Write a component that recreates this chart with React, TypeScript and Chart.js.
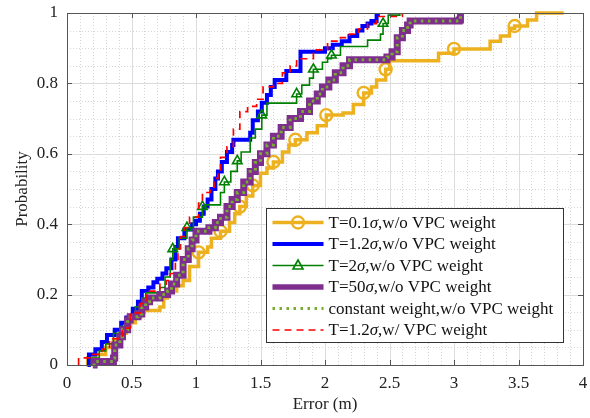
import React, { useEffect, useRef } from 'react';
import { Chart, registerables } from 'chart.js';
Chart.register(...registerables);

// ---- data ----
const xTickValues = [0, 0.5, 1, 1.5, 2, 2.5, 3, 3.5, 4];
const yTickValues = [0, 0.2, 0.4, 0.6, 0.8, 1];

// T=0.1σ, w/o VPC weight
const t01Err = [0.15, 0.16, 0.22, 0.3, 0.36, 0.41, 0.46, 0.49, 0.53, 0.57, 0.6, 0.72, 0.75, 0.78, 0.85, 0.9, 0.95, 1.02, 1.09, 1.12, 1.19, 1.26, 1.3, 1.34, 1.39, 1.44, 1.5, 1.55, 1.6, 1.67, 1.72, 1.77, 1.86, 1.94, 2.01, 2.14, 2.22, 2.3, 2.36, 2.4, 2.47, 2.5, 2.88, 3.0, 3.28, 3.36, 3.43, 3.47, 3.57, 3.64, 3.85];
const t01Prob = [0, 0.02, 0.03, 0.05, 0.07, 0.09, 0.11, 0.12, 0.135, 0.15, 0.155, 0.165, 0.19, 0.21, 0.225, 0.24, 0.28, 0.32, 0.335, 0.36, 0.38, 0.405, 0.43, 0.45, 0.48, 0.51, 0.545, 0.56, 0.577, 0.605, 0.625, 0.64, 0.66, 0.68, 0.71, 0.716, 0.74, 0.773, 0.79, 0.81, 0.84, 0.864, 0.886, 0.898, 0.92, 0.935, 0.957, 0.963, 0.98, 1.0, 1.0];
const t01Marks = [17, 20, 23, 25, 28, 31, 34, 37, 40, 43, 47];

// T=1.2σ, w/o VPC weight
const t12Err = [0.16, 0.17, 0.22, 0.27, 0.31, 0.37, 0.42, 0.46, 0.51, 0.55, 0.58, 0.63, 0.67, 0.7, 0.74, 0.77, 0.81, 0.84, 0.86, 0.91, 0.97, 1.0, 1.03, 1.06, 1.09, 1.12, 1.15, 1.17, 1.2, 1.24, 1.28, 1.29, 1.42, 1.44, 1.48, 1.51, 1.55, 1.58, 1.61, 1.7, 1.81, 2.0, 2.06, 2.13, 2.19, 2.25, 2.29, 2.33, 2.36, 2.4, 2.41];
const t12Prob = [0, 0.03, 0.045, 0.065, 0.085, 0.1, 0.12, 0.135, 0.16, 0.18, 0.21, 0.22, 0.235, 0.245, 0.26, 0.275, 0.3, 0.335, 0.36, 0.385, 0.4, 0.41, 0.43, 0.45, 0.47, 0.5, 0.53, 0.55, 0.577, 0.605, 0.625, 0.64, 0.66, 0.695, 0.72, 0.745, 0.767, 0.79, 0.81, 0.835, 0.89, 0.9, 0.91, 0.92, 0.935, 0.95, 0.963, 0.97, 0.977, 0.994, 1.0];

// T=2σ, w/o VPC weight
const t2Err = [0.18, 0.19, 0.25, 0.3, 0.36, 0.42, 0.48, 0.53, 0.58, 0.61, 0.72, 0.76, 0.8, 0.82, 0.87, 0.93, 0.98, 1.05, 1.07, 1.19, 1.22, 1.27, 1.32, 1.35, 1.42, 1.46, 1.51, 1.55, 1.78, 1.82, 1.88, 1.91, 1.98, 2.02, 2.05, 2.12, 2.33, 2.43, 2.45, 2.49, 2.58];
const t2Prob = [0, 0.02, 0.04, 0.06, 0.09, 0.11, 0.14, 0.165, 0.19, 0.205, 0.22, 0.25, 0.3, 0.33, 0.36, 0.39, 0.42, 0.45, 0.455, 0.49, 0.52, 0.55, 0.58, 0.605, 0.645, 0.67, 0.71, 0.744, 0.77, 0.795, 0.815, 0.84, 0.86, 0.87, 0.88, 0.905, 0.923, 0.94, 0.97, 0.994, 1.0];
const t2Marks = [13, 15, 17, 20, 22, 26, 28, 31, 34, 38];

// T=50σ, w/o VPC weight
const t50Err = [0.2, 0.21, 0.36, 0.37, 0.41, 0.43, 0.47, 0.49, 0.55, 0.58, 0.61, 0.64, 0.72, 0.78, 0.81, 0.85, 0.9, 0.94, 0.97, 1.0, 1.1, 1.15, 1.19, 1.24, 1.28, 1.32, 1.37, 1.42, 1.46, 1.5, 1.55, 1.6, 1.66, 1.73, 1.81, 1.88, 1.94, 1.98, 2.03, 2.08, 2.14, 2.19, 2.48, 2.52, 2.56, 2.6, 2.64, 2.66, 3.04, 3.05];
const t50Prob = [0, 0.01, 0.02, 0.057, 0.08, 0.1, 0.128, 0.137, 0.145, 0.165, 0.18, 0.19, 0.2, 0.21, 0.23, 0.255, 0.3, 0.33, 0.355, 0.38, 0.39, 0.405, 0.42, 0.45, 0.47, 0.49, 0.52, 0.55, 0.575, 0.6, 0.625, 0.65, 0.675, 0.7, 0.72, 0.75, 0.77, 0.79, 0.81, 0.83, 0.85, 0.867, 0.875, 0.89, 0.93, 0.95, 0.966, 0.977, 0.98, 1.0];

// constant weight, w/o VPC weight (coincides with T=50σ)
const constErr = t50Err;
const constProb = t50Prob;

// T=1.2σ, w/ VPC weight
const vpcErr = [0.09, 0.09, 0.2, 0.27, 0.33, 0.43, 0.49, 0.57, 0.62, 0.72, 0.77, 0.8, 0.84, 0.86, 0.88, 0.91, 0.95, 1.02, 1.05, 1.11, 1.14, 1.17, 1.19, 1.24, 1.29, 1.34, 1.4, 1.47, 1.52, 1.6, 1.67, 1.73, 1.78, 1.91, 2.02, 2.12, 2.19, 2.26, 2.33, 2.4, 2.6];
const vpcProb = [0, 0.02, 0.03, 0.045, 0.075, 0.105, 0.148, 0.175, 0.21, 0.23, 0.24, 0.26, 0.3, 0.33, 0.365, 0.39, 0.42, 0.46, 0.49, 0.505, 0.53, 0.55, 0.59, 0.62, 0.67, 0.72, 0.735, 0.755, 0.79, 0.8, 0.83, 0.85, 0.87, 0.895, 0.92, 0.93, 0.94, 0.955, 0.97, 0.99, 1.0];

const legendLabels = [
  ['T=0.1', 'σ', ',w/o VPC weight'],
  ['T=1.2', 'σ', ',w/o VPC weight'],
  ['T=2', 'σ', ',w/o VPC weight'],
  ['T=50', 'σ', ',w/o VPC weight'],
  ['constant weight,w/o VPC weight', '', ''],
  ['T=1.2', 'σ', ',w/ VPC weight'],
];

// ---- styles ----
const YELLOW = '#EDB120';
const BLUE = '#0000FF';
const GREEN = '#008000';
const PURPLE = '#7E2F8E';
const LGREEN = '#77AC30';
const RED = '#FF0000';
const FONT = '"Liberation Serif", "Times New Roman", serif';
const FS = 17;

type Sty = { color: string; width: number; dash: number[]; marker: string | null };
const styles: Sty[] = [
  { color: YELLOW, width: 3.5, dash: [], marker: 'circle' },
  { color: BLUE, width: 4, dash: [], marker: null },
  { color: GREEN, width: 1.6, dash: [], marker: 'triangle' },
  { color: PURPLE, width: 7, dash: [], marker: null },
  { color: LGREEN, width: 3, dash: [2.5, 4.5], marker: null },
  { color: RED, width: 1.7, dash: [7, 5], marker: null },
];

const toPts = (xs: number[], ys: number[]) => xs.map((x, i) => ({ x, y: ys[i] }));
const fmt = (v: number) => String(Number(Number(v).toFixed(2)));

function drawMarker(ctx: CanvasRenderingContext2D, kind: string, x: number, y: number, color: string) {
  ctx.save();
  ctx.setLineDash([]);
  ctx.strokeStyle = color;
  ctx.beginPath();
  if (kind === 'circle') {
    ctx.lineWidth = 2.4;
    ctx.arc(x, y, 6, 0, Math.PI * 2);
  } else {
    ctx.lineWidth = 1.6;
    ctx.moveTo(x, y - 5.5);
    ctx.lineTo(x + 5, y + 3.5);
    ctx.lineTo(x - 5, y + 3.5);
    ctx.closePath();
  }
  ctx.stroke();
  ctx.restore();
}

const decorPlugin = {
  id: 'decor',
  beforeDatasetsDraw(chart: any) {
    const { ctx, chartArea: a, scales } = chart;
    const sx = scales.x, sy = scales.y;
    ctx.save();
    ctx.lineWidth = 1;
    ctx.strokeStyle = '#d6d6d6';
    ctx.setLineDash([1, 2]);
    for (let i = 1; i < 40; i++) {
      if (i % 5 === 0) continue;
      const px = Math.round(sx.getPixelForValue(i / 10)) + 0.5;
      ctx.beginPath(); ctx.moveTo(px, a.top); ctx.lineTo(px, a.bottom); ctx.stroke();
    }
    for (let j = 1; j < 20; j++) {
      if (j % 4 === 0) continue;
      const py = Math.round(sy.getPixelForValue(j / 20)) + 0.5;
      ctx.beginPath(); ctx.moveTo(a.left, py); ctx.lineTo(a.right, py); ctx.stroke();
    }
    ctx.setLineDash([]);
    ctx.strokeStyle = '#dcdcdc';
    xTickValues.forEach(v => {
      const px = Math.round(sx.getPixelForValue(v)) + 0.5;
      ctx.beginPath(); ctx.moveTo(px, a.top); ctx.lineTo(px, a.bottom); ctx.stroke();
    });
    yTickValues.forEach(v => {
      const py = Math.round(sy.getPixelForValue(v)) + 0.5;
      ctx.beginPath(); ctx.moveTo(a.left, py); ctx.lineTo(a.right, py); ctx.stroke();
    });
    ctx.restore();
  },
  afterDatasetsDraw(chart: any) {
    const { ctx, chartArea: a, scales } = chart;
    const sx = scales.x, sy = scales.y;
    ctx.save();
    ctx.strokeStyle = '#555555';
    ctx.lineWidth = 1;
    ctx.setLineDash([]);
    ctx.strokeRect(Math.round(a.left) + 0.5, Math.round(a.top) + 0.5, Math.round(a.right - a.left), Math.round(a.bottom - a.top));
    const tl = 5;
    xTickValues.forEach(v => {
      const px = Math.round(sx.getPixelForValue(v)) + 0.5;
      ctx.beginPath(); ctx.moveTo(px, a.bottom); ctx.lineTo(px, a.bottom - tl); ctx.stroke();
      ctx.beginPath(); ctx.moveTo(px, a.top); ctx.lineTo(px, a.top + tl); ctx.stroke();
    });
    yTickValues.forEach(v => {
      const py = Math.round(sy.getPixelForValue(v)) + 0.5;
      ctx.beginPath(); ctx.moveTo(a.left, py); ctx.lineTo(a.left + tl, py); ctx.stroke();
      ctx.beginPath(); ctx.moveTo(a.right, py); ctx.lineTo(a.right - tl, py); ctx.stroke();
    });

    // legend
    const bw = 297, bh = 134;
    const bx = Math.round(a.right - 20 - bw) + 0.5;
    const by = Math.round(a.bottom - 23 - bh) + 0.5;
    ctx.fillStyle = '#ffffff';
    ctx.fillRect(bx, by, bw, bh);
    ctx.strokeStyle = '#333333';
    ctx.strokeRect(bx, by, bw, bh);
    ctx.textBaseline = 'middle';
    ctx.textAlign = 'left';
    legendLabels.forEach((parts, i) => {
      const st = styles[i];
      const y = by + 14 + i * 21.5;
      const x0 = bx + 6, x1 = bx + 57;
      ctx.save();
      ctx.strokeStyle = st.color;
      ctx.lineWidth = Math.min(st.width, 5.5);
      ctx.setLineDash(st.dash);
      ctx.beginPath(); ctx.moveTo(x0, y); ctx.lineTo(x1, y); ctx.stroke();
      ctx.restore();
      if (st.marker) drawMarker(ctx, st.marker, (x0 + x1) / 2, y, st.color);
      let tx = bx + 62;
      ctx.fillStyle = '#111111';
      ctx.font = `${FS}px ${FONT}`;
      ctx.fillText(parts[0], tx, y + 1);
      tx += ctx.measureText(parts[0]).width;
      if (parts[1]) {
        ctx.font = `italic ${FS}px ${FONT}`;
        ctx.fillText(parts[1], tx, y + 1);
        tx += ctx.measureText(parts[1]).width;
        ctx.font = `${FS}px ${FONT}`;
        ctx.fillText(parts[2], tx, y + 1);
      }
    });
    ctx.restore();
  },
};

export default function App() {
  const ref = useRef<HTMLCanvasElement | null>(null);
  useEffect(() => {
    if (!ref.current) return;
    const series = [
      { pts: toPts(t01Err, t01Prob), marks: t01Marks },
      { pts: toPts(t12Err, t12Prob), marks: [] as number[] },
      { pts: toPts(t2Err, t2Prob), marks: t2Marks },
      { pts: toPts(t50Err, t50Prob), marks: [] as number[] },
      { pts: toPts(constErr, constProb), marks: [] as number[] },
      { pts: toPts(vpcErr, vpcProb), marks: [] as number[] },
    ];
    const datasets = series.map((s, i) => {
      const st = styles[i];
      return {
        data: s.pts,
        borderColor: st.color,
        backgroundColor: 'rgba(0,0,0,0)',
        borderWidth: st.width,
        borderDash: st.dash,
        stepped: 'before' as const,
        fill: false,
        order: 6 - i,
        clip: 4,
        pointStyle: st.marker || 'circle',
        pointRadius: (c: any) => (s.marks.includes(c.dataIndex) ? (st.marker === 'circle' ? 6 : 5.5) : 0),
        pointBorderColor: st.color,
        pointBackgroundColor: 'rgba(0,0,0,0)',
        pointBorderWidth: st.marker === 'circle' ? 2.4 : 1.6,
        pointHoverRadius: 0,
      };
    });
    const zeroPad = (s: any) => { s.paddingLeft = 0; s.paddingRight = 0; s.paddingTop = 0; s.paddingBottom = 0; };
    const chart = new Chart(ref.current, {
      type: 'line',
      data: { datasets },
      plugins: [decorPlugin],
      options: {
        animation: false,
        responsive: false,
        devicePixelRatio: 1,
        layout: { padding: { top: 13, right: 7, left: 0, bottom: 0 } },
        plugins: { legend: { display: false }, tooltip: { enabled: false } },
        scales: {
          x: {
            type: 'linear',
            min: 0,
            max: 4,
            afterFit: (s: any) => { s.height = 53; zeroPad(s); },
            grid: { display: false, drawTicks: false },
            border: { display: false },
            ticks: { stepSize: 0.5, padding: 8, color: '#222', font: { family: FONT, size: FS }, maxRotation: 0, callback: (v: any) => fmt(v) },
            title: { display: true, text: 'Error (m)', color: '#222', font: { family: FONT, size: FS }, padding: { top: 0, bottom: 3 } },
          },
          y: {
            type: 'linear',
            min: 0,
            max: 1,
            afterFit: (s: any) => { s.width = 67; zeroPad(s); },
            grid: { display: false, drawTicks: false },
            border: { display: false },
            ticks: { stepSize: 0.2, padding: 9, color: '#222', font: { family: FONT, size: FS }, callback: (v: any) => fmt(v) },
            title: { display: true, text: 'Probability', color: '#222', font: { family: FONT, size: FS }, padding: { top: 12, bottom: 0 } },
          },
        },
      } as any,
    });
    return () => chart.destroy();
  }, []);
  return (
    <div style={{ position: 'absolute', left: 0, top: 0, width: 590, height: 418, background: '#fff' }}>
      <canvas ref={ref} width={590} height={418} style={{ width: 590, height: 418 }} />
    </div>
  );
}
